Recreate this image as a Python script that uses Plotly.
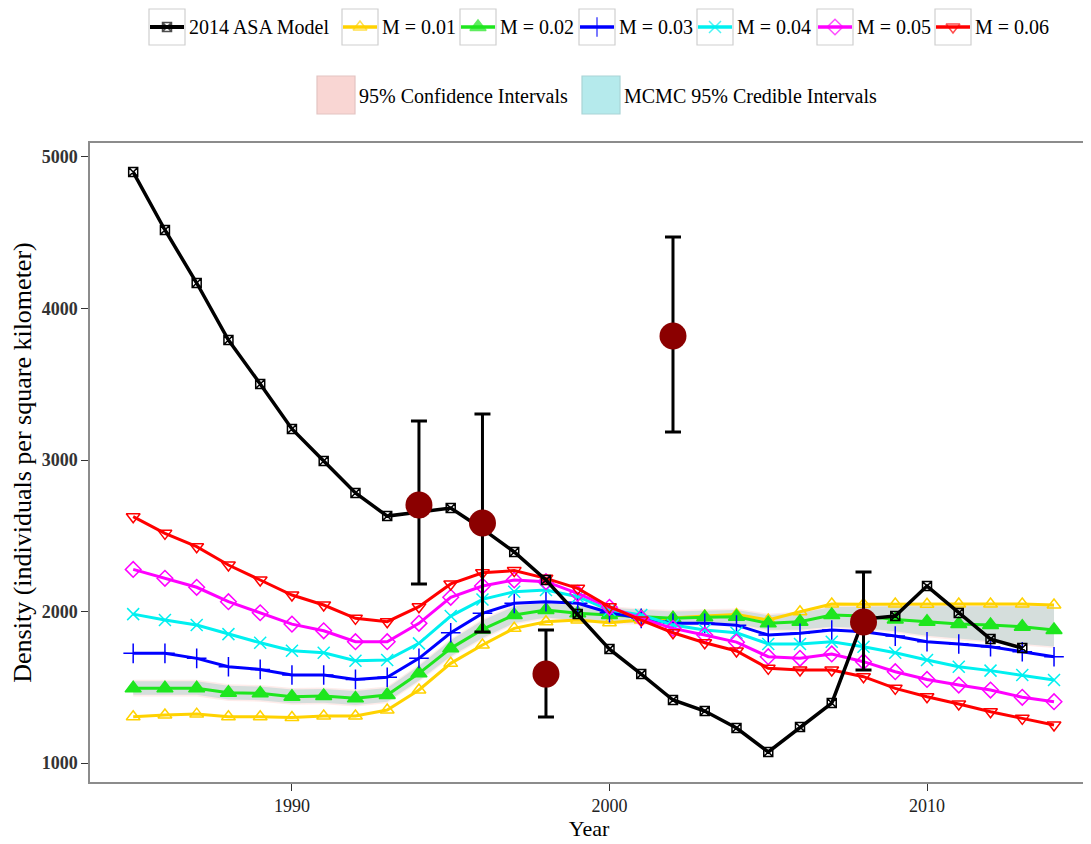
import plotly.graph_objects as go

years = list(range(1985, 2015))
asa_years = list(range(1985, 2014))
asa_model = [4900, 4518, 4168, 3792, 3502, 3205, 2993, 2782, 2630, 2655, 2683, 2545, 2393,
             2208, 1983, 1752, 1587, 1416, 1343, 1231, 1073, 1238, 1396, 1950, 1970, 2168,
             1990, 1818, 1759]

m001 = [1306, 1317, 1323, 1306, 1306, 1301, 1310, 1310, 1350, 1482, 1658, 1779, 1889, 1933,
        1944, 1926, 1944, 1959, 1970, 1980, 1944, 1999, 2050, 2048, 2050, 2048, 2050, 2050,
        2050, 2043]
m002 = [1493, 1493, 1493, 1464, 1460, 1438, 1442, 1427, 1449, 1592, 1757, 1882, 1977, 2010,
        1988, 1977, 1966, 1955, 1962, 1966, 1922, 1933, 1977, 1970, 1948, 1933, 1918, 1911,
        1900, 1878]
m003 = [1724, 1724, 1691, 1636, 1618, 1581, 1581, 1552, 1566, 1691, 1860, 1988, 2054, 2065,
        2054, 1992, 1955, 1922, 1922, 1910, 1845, 1856, 1878, 1867, 1838, 1801, 1786, 1768,
        1735, 1702]
m004 = [1983, 1944, 1911, 1851, 1794, 1741, 1728, 1675, 1680, 1790, 1970, 2080, 2131, 2142,
        2098, 2010, 1977, 1911, 1878, 1860, 1786, 1786, 1801, 1768, 1728, 1680, 1636, 1610,
        1581, 1548]
m005 = [2278, 2219, 2160, 2065, 1992, 1917, 1873, 1801, 1801, 1922, 2094, 2168, 2208, 2197,
        2120, 2028, 1955, 1889, 1845, 1798, 1702, 1691, 1720, 1669, 1603, 1552, 1515, 1482,
        1434, 1405]
m006 = [2626, 2516, 2428, 2307, 2208, 2109, 2043, 1955, 1933, 2032, 2182, 2256, 2270, 2219,
        2153, 2032, 1944, 1860, 1794, 1740, 1625, 1614, 1614, 1570, 1493, 1438, 1390, 1339,
        1295, 1251]

cred_low = [1450, 1450, 1450, 1420, 1415, 1395, 1398, 1383, 1405, 1545, 1705, 1825, 1925, 1960,
            1940, 1930, 1925, 1915, 1920, 1920, 1880, 1880, 1900, 1890, 1870, 1840, 1820, 1805,
            1785, 1770]
cred_high = [1540, 1540, 1540, 1510, 1505, 1485, 1488, 1475, 1495, 1640, 1810, 1940, 2035, 2060,
             2035, 2025, 2010, 2000, 2005, 2010, 1975, 1990, 2030, 2035, 2035, 2035, 2035, 2035,
             2035, 2035]
conf_low = [1440, 1440, 1440, 1410, 1405, 1385, 1388, 1373, 1395, 1535, 1695, 1815, 1915, 1950,
            1930, 1920, 1915, 1905, 1910, 1910, 1870, 1870, 1890, 1880, 1860, 1830, 1810, 1795,
            1775, 1760]
conf_high = [1550, 1550, 1550, 1520, 1515, 1495, 1498, 1485, 1505, 1650, 1820, 1950, 2045, 2070,
             2045, 2035, 2020, 2010, 2015, 2020, 1985, 2000, 2040, 2045, 2045, 2045, 2045, 2045,
             2045, 2045]

obs_years = [1994, 1996, 1998, 2002, 2008]
obs_density = [2703, 2584, 1587, 3818, 1931]
obs_upper = [3257, 3304, 1878, 4472, 2261]
obs_lower = [2181, 1865, 1304, 3185, 1614]

line_labels = ["2014 ASA Model", "M = 0.01", "M = 0.02", "M = 0.03", "M = 0.04", "M = 0.05",
               "M = 0.06"]
band_labels = ["95% Confidence Intervals", "MCMC 95% Credible Intervals"]

# style: (values, x, colour, symbol, size, line width)
styles = {
    "2014 ASA Model": (asa_model, asa_years, "#000000", "square-x-open", 9, 3.5),
    "M = 0.01": (m001, years, "#FFD200", "triangle-up-open", 12, 3),
    "M = 0.02": (m002, years, "#1EE61E", "triangle-up", 14, 3),
    "M = 0.03": (m003, years, "#0000FF", "cross-thin-open", 14, 3),
    "M = 0.04": (m004, years, "#00F0F0", "x-thin-open", 12, 3),
    "M = 0.05": (m005, years, "#FF00FF", "diamond-open", 12, 3),
    "M = 0.06": (m006, years, "#FF0000", "triangle-down-open", 12, 3),
}

FONT = "Liberation Serif"
OFF = 8  # default page body margin
W, H = 1091 - OFF, 844 - OFF
PL, PR, PT, PB = 90, 1088, 143, 782  # plot box in page pixels
TOP = OFF  # top of the drawing area (page px)
main_top = (PB - PT) / (PB - TOP)


def px(X):
    return (X - PL) / (PR - PL)


def py(Y):
    return (PB - Y) / (PB - TOP)


fig = go.Figure()

# Bands
fig.add_trace(go.Scatter(x=years, y=conf_high, mode="lines", line=dict(width=0),
                         showlegend=False, hoverinfo="skip"))
fig.add_trace(go.Scatter(x=years, y=conf_low, mode="lines", line=dict(width=0), fill="tonexty",
                         fillcolor="rgba(248,118,109,0.14)", showlegend=False, hoverinfo="skip"))
fig.add_trace(go.Scatter(x=years, y=cred_high, mode="lines", line=dict(width=0),
                         showlegend=False, hoverinfo="skip"))
fig.add_trace(go.Scatter(x=years, y=cred_low, mode="lines", line=dict(width=0), fill="tonexty",
                         fillcolor="rgba(120,190,190,0.30)", showlegend=False, hoverinfo="skip"))

# M lines, then the ASA model on top
for name in line_labels[1:] + line_labels[:1]:
    vals, xs, col, sym, sz, lw = styles[name]
    fig.add_trace(go.Scatter(x=xs, y=vals, mode="lines+markers", name=name, showlegend=False,
                             line=dict(color=col, width=lw),
                             marker=dict(symbol=sym, size=sz, color=col,
                                         line=dict(width=1.5, color=col))))

# Observations with error bars
fig.add_trace(go.Scatter(x=obs_years, y=obs_density, mode="markers", showlegend=False,
                         marker=dict(color="#8B0000", size=27),
                         error_y=dict(type="data", symmetric=False,
                                      array=[u - d for u, d in zip(obs_upper, obs_density)],
                                      arrayminus=[d - l for d, l in zip(obs_density, obs_lower)],
                                      color="black", thickness=3, width=8)))

# ---- Manual legend (ggplot-like keys) ----
shapes = []
annotations = []
key_left = [149, 342, 460, 579, 697, 817, 935]
key_w = 36
row1_y0, row1_y1 = 9, 45
row1_c = 27
mk_x, mk_y, mk_sym, mk_col, mk_sz = [], [], [], [], []
for name, kl in zip(line_labels, key_left):
    vals, xs, col, sym, sz, lw = styles[name]
    shapes.append(dict(type="rect", xref="paper", yref="paper",
                       x0=px(kl), x1=px(kl + key_w), y0=py(row1_y1), y1=py(row1_y0),
                       line=dict(color="#CFCFCF", width=1.2), fillcolor="white", layer="below"))
    shapes.append(dict(type="line", xref="paper", yref="paper",
                       x0=px(kl + 1), x1=px(kl + key_w - 1), y0=py(row1_c), y1=py(row1_c),
                       line=dict(color=col, width=lw + 0.5), layer="below"))
    mk_x.append(kl + key_w / 2)
    mk_y.append(row1_c)
    mk_sym.append(sym)
    mk_col.append(col)
    mk_sz.append(sz)
    annotations.append(dict(text=name, xref="paper", yref="paper", x=px(kl + key_w + 2),
                            y=py(row1_c), xanchor="left", yanchor="middle", showarrow=False,
                            font=dict(family=FONT, size=20, color="black")))

band_keys = [(317, "#F9D6D3", "#E3C4C2"), (582, "#B5EAEC", "#A9D4D6")]
row2_y0, row2_y1 = 76, 114
row2_c = 96
for name, (kl, fillc, edge) in zip(band_labels, band_keys):
    shapes.append(dict(type="rect", xref="paper", yref="paper",
                       x0=px(kl), x1=px(kl + 38), y0=py(row2_y1), y1=py(row2_y0),
                       line=dict(color=edge, width=1.2), fillcolor=fillc, layer="below"))
    annotations.append(dict(text=name, xref="paper", yref="paper", x=px(kl + 40),
                            y=py(row2_c), xanchor="left", yanchor="middle", showarrow=False,
                            font=dict(family=FONT, size=20, color="black")))

# Legend key markers on a hidden subplot spanning the whole drawing area (page px units)
fig.add_trace(go.Scatter(x=mk_x, y=mk_y, mode="markers", xaxis="x2", yaxis="y2",
                         showlegend=False, hoverinfo="skip",
                         marker=dict(symbol=mk_sym, size=mk_sz, color=mk_col,
                                     line=dict(width=1.5, color=mk_col))))

axis_common = dict(showline=True, linecolor="#8c8c8c", linewidth=1.5, mirror=True,
                   showgrid=False, zeroline=False, ticks="outside", ticklen=7,
                   tickcolor="#333333", tickwidth=1.2, automargin=False)

fig.update_layout(
    template="none",
    width=W, height=H,
    paper_bgcolor="white", plot_bgcolor="rgba(0,0,0,0)",
    margin=dict(l=PL - OFF, r=W - (PR - OFF), t=TOP - OFF, b=H - (PB - OFF), pad=0),
    font=dict(family=FONT, color="black"),
    showlegend=False,
    xaxis=dict(range=[1983.64, 2015.07], tickvals=[1990, 2000, 2010], domain=[0, 1],
               anchor="y",
               tickfont=dict(family=FONT, size=18, color="#222222"),
               title=dict(text="Year", font=dict(family=FONT, size=22), standoff=3),
               **axis_common),
    yaxis=dict(range=[875, 5092], tickvals=[1000, 2000, 3000, 4000, 5000],
               domain=[0, main_top], anchor="x",
               tickfont=dict(family=FONT, size=18, color="#333333", weight="bold"),
               title=dict(text="Density (individuals per square kilometer)",
                          font=dict(family=FONT, size=26), standoff=4),
               **axis_common),
    xaxis2=dict(domain=[0, 1], anchor="y2", range=[PL, PR], visible=False, fixedrange=True),
    yaxis2=dict(domain=[0, 1], anchor="x2", range=[PB, TOP], visible=False, fixedrange=True),
    shapes=shapes,
    annotations=annotations,
)

fig.write_html("out.html")
